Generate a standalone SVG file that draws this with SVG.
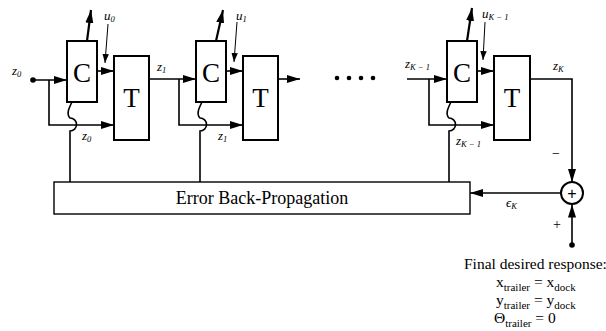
<svg xmlns="http://www.w3.org/2000/svg" width="606" height="331" viewBox="0 0 606 331">
<style>
text{fill:#000}
.box{fill:#fff;stroke:#000;stroke-width:2}
.ln{fill:none;stroke:#000;stroke-width:1.6}
.th{fill:none;stroke:#000;stroke-width:1}
.bg{fill:none;stroke:#000;stroke-width:2.2}
.big{font-family:"Liberation Serif",serif;font-size:27px;text-anchor:middle}
.lab{font-family:"Liberation Serif",serif;font-size:13px;font-style:italic}
.sub{font-size:8.5px}
.txt{font-family:"Liberation Serif",serif;font-size:15.5px}
.rs{font-size:11px}
.ebp{font-family:"Liberation Serif",serif;font-size:18px;text-anchor:middle}
</style>
<defs>
<marker id="ah" markerUnits="userSpaceOnUse" markerWidth="14" markerHeight="10" refX="13" refY="5" orient="auto">
<path d="M0,1 L13,5 L0,9 Z" fill="#000"/>
</marker>
<marker id="ahs" markerUnits="userSpaceOnUse" markerWidth="10" markerHeight="8" refX="9" refY="4" orient="auto">
<path d="M0,0.8 L9,4 L0,7.2 Z" fill="#000"/>
</marker>
</defs>

<g id="connectors">
<circle cx="33" cy="80" r="2.8" fill="#000"/>
<path class="ln" d="M33,80 L67,80" marker-end="url(#ah)"/>
<path class="ln" d="M49,80 L49,125 L114,125" marker-end="url(#ah)"/>
<path class="ln" d="M97,71 L114,71" marker-end="url(#ah)"/>
<path class="th" d="M108,24 L105,63" marker-end="url(#ahs)"/>
<path class="bg" d="M87,41 L91,10" marker-end="url(#ah)"/>
<path class="ln" d="M72,102 C69,108 66,114 70,118 A6.5,6.5 0 0 1 70,131 L70,182"/>
<path class="ln" d="M149,79 L196,79" marker-end="url(#ah)"/>
<path class="ln" d="M179,79 L179,125 L243,125" marker-end="url(#ah)"/>
<path class="ln" d="M226,71 L243,71" marker-end="url(#ah)"/>
<path class="th" d="M237,22 L234,62" marker-end="url(#ahs)"/>
<path class="bg" d="M216,41 L223,10" marker-end="url(#ah)"/>
<path class="ln" d="M202,102 C199,108 196,114 200,118 A6.5,6.5 0 0 1 200,131 L200,182"/>
<path class="ln" d="M278,79 L300,79" marker-end="url(#ah)"/>
<path class="ln" d="M407,79 L447,79" marker-end="url(#ah)"/>
<path class="ln" d="M429,79 L429,125 L494,125" marker-end="url(#ah)"/>
<path class="ln" d="M477,71 L494,71" marker-end="url(#ah)"/>
<path class="th" d="M485,22 L483,60" marker-end="url(#ahs)"/>
<path class="bg" d="M467,41 L472,8" marker-end="url(#ah)"/>
<path class="ln" d="M451,102 C448,108 445,114 449,118 A6.5,6.5 0 0 1 449,131 L449,182"/>
<path class="ln" d="M530,79 L572,79 L572,182" marker-end="url(#ah)"/>
<path class="ln" d="M561,193 L470,193" marker-end="url(#ah)"/>
<circle cx="572" cy="245" r="2.8" fill="#000"/>
<path class="ln" d="M572,245 L572,204.5" marker-end="url(#ah)"/>
</g>

<g id="dots">
<circle cx="337" cy="78" r="2.3" fill="#000"/>
<circle cx="349" cy="78" r="2.3" fill="#000"/>
<circle cx="361" cy="78" r="2.3" fill="#000"/>
<circle cx="373" cy="78" r="2.3" fill="#000"/>
</g>

<g id="C0"><rect class="box" x="67" y="41" width="30" height="61"/><text class="big" x="82" y="82">C</text></g>
<g id="T0"><rect class="box" x="114" y="56" width="35" height="84"/><text class="big" x="131.5" y="107">T</text></g>
<g id="C1"><rect class="box" x="196" y="41" width="30" height="61"/><text class="big" x="211" y="82">C</text></g>
<g id="T1"><rect class="box" x="243" y="56" width="35" height="84"/><text class="big" x="260.5" y="107">T</text></g>
<g id="CK"><rect class="box" x="447" y="41" width="30" height="61"/><text class="big" x="462" y="82">C</text></g>
<g id="TK"><rect class="box" x="494" y="56" width="36" height="84"/><text class="big" x="512" y="107">T</text></g>

<g id="ebp"><rect x="54" y="182" width="416" height="32" fill="#fff" stroke="#000" stroke-width="1.4"/><text class="ebp" x="262" y="204">Error Back-Propagation</text></g>

<g id="sum"><circle cx="572" cy="193" r="11" fill="#fff" stroke="#000" stroke-width="2"/><text x="572" y="198.5" font-family="Liberation Sans,sans-serif" font-size="16" text-anchor="middle">+</text></g>

<g id="labels">
<text class="lab" x="12" y="75">z<tspan class="sub" dy="2">0</tspan></text>
<text class="lab" x="82" y="140">z<tspan class="sub" dy="2">0</tspan></text>
<text class="lab" x="157" y="71">z<tspan class="sub" dy="2">1</tspan></text>
<text class="lab" x="218" y="140">z<tspan class="sub" dy="2">1</tspan></text>
<text class="lab" x="405" y="68">z<tspan class="sub" dy="2">K − 1</tspan></text>
<text class="lab" x="456" y="145">z<tspan class="sub" dy="2">K − 1</tspan></text>
<text class="lab" x="553" y="70">z<tspan class="sub" dy="2">K</tspan></text>
<text class="lab" x="104" y="20">u<tspan class="sub" dy="2">0</tspan></text>
<text class="lab" x="236" y="20">u<tspan class="sub" dy="2">1</tspan></text>
<text class="lab" x="482" y="18">u<tspan class="sub" dy="2">K − 1</tspan></text>
<text class="lab" x="506" y="207">ϵ<tspan class="sub" dy="2">K</tspan></text>
<text x="552" y="158" font-family="Liberation Serif,serif" font-size="14">−</text>
<text x="553" y="229" font-family="Liberation Serif,serif" font-size="14">+</text>
</g>

<g id="response">
<text class="txt" x="464" y="269">Final desired response:</text>
<text class="txt" x="496" y="287">x<tspan class="rs" dy="4">trailer</tspan><tspan dy="-4"> = x</tspan><tspan class="rs" dy="4">dock</tspan></text>
<text class="txt" x="496" y="305">y<tspan class="rs" dy="4">trailer</tspan><tspan dy="-4"> = y</tspan><tspan class="rs" dy="4">dock</tspan></text>
<text class="txt" x="494" y="323">Θ<tspan class="rs" dy="4">trailer</tspan><tspan dy="-4"> = 0</tspan></text>
</g>
</svg>
